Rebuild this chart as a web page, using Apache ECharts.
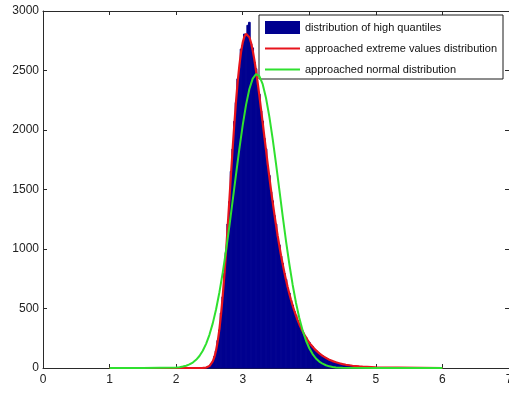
<!DOCTYPE html>
<html>
<head>
<meta charset="utf-8">
<script src="https://cdn.jsdelivr.net/npm/echarts@6/dist/echarts.min.js"></script>
<style>
  html, body { margin: 0; padding: 0; background: #ffffff; }
  #chart { width: 509px; height: 394px; }
</style>
</head>
<body>
<div id="chart"></div>
<script>
// Histogram of the simulated high quantiles: first bin centre, bin width, counts
var histFirstCenter = 2.45;
var histBinWidth = 0.025;
var histCounts = [
  4, 9, 15, 33, 52, 96, 144, 231, 320, 462,
  598, 796, 970, 1210, 1398, 1652, 1840, 2072, 2231, 2430,
  2521, 2680, 2712, 2806, 2790, 2880, 2905, 2724, 2690, 2570,
  2515, 2380, 2301, 2160, 2075, 1930, 1842, 1700, 1618, 1480,
  1405, 1282, 1210, 1098, 1035, 940, 880, 798, 745, 672,
  630, 566, 528, 476, 444, 398, 372, 333, 311, 277,
  259, 230, 216, 192, 180, 159, 149, 132, 124, 110,
  103, 92, 86, 76, 71, 63, 58, 52, 48, 43,
  40, 36, 33, 30, 27, 25, 23, 20, 19, 17,
  15, 14, 13, 11, 10
];

// Fitted extreme values (Gumbel) density, scaled to counts
var evX = [
  1, 2, 2.2, 2.3, 2.35, 2.4, 2.425, 2.45, 2.475, 2.5,
  2.525, 2.55, 2.575, 2.6, 2.625, 2.65, 2.675, 2.7, 2.725, 2.75,
  2.775, 2.8, 2.825, 2.85, 2.875, 2.9, 2.925, 2.95, 2.975, 3.0,
  3.025, 3.05, 3.075, 3.1, 3.125, 3.15, 3.175, 3.2, 3.225, 3.25,
  3.275, 3.3, 3.325, 3.35, 3.375, 3.4, 3.425, 3.45, 3.475, 3.5,
  3.525, 3.55, 3.575, 3.6, 3.625, 3.65, 3.675, 3.7, 3.725, 3.75,
  3.775, 3.8, 3.825, 3.85, 3.875, 3.9, 3.925, 3.95, 3.975, 4.0,
  4.025, 4.05, 4.075, 4.1, 4.125, 4.15, 4.175, 4.2, 4.25, 4.3,
  4.35, 4.4, 4.45, 4.5, 4.55, 4.6, 4.65, 4.7, 4.75, 4.8,
  5, 6
];
var evY = [
  0, 0, 0, 0, 0, 0.5, 1.4, 3.5, 7.8, 16,
  31, 55, 93, 149, 226, 327, 454, 607, 785, 982,
  1195, 1415, 1637, 1853, 2057, 2244, 2408, 2544, 2654, 2734,
  2785, 2808, 2805, 2780, 2733, 2668, 2589, 2498, 2396, 2289,
  2176, 2061, 1945, 1830, 1716, 1605, 1497, 1394, 1295, 1200,
  1111, 1027, 948, 874, 805, 740, 680, 624, 573, 525,
  481, 440, 403, 368, 337, 308, 281, 257, 234, 214,
  195, 178, 162, 148, 135, 123, 112, 102, 85, 70,
  58, 48, 40, 33, 27, 23, 19, 16, 13, 11,
  5, 0
];

// Fitted normal density, scaled to counts
var normX = [
  1, 1.5, 2.0, 2.05, 2.1, 2.15, 2.2, 2.25, 2.3, 2.35,
  2.4, 2.45, 2.5, 2.55, 2.6, 2.65, 2.7, 2.75, 2.8, 2.85,
  2.9, 2.95, 3.0, 3.05, 3.1, 3.15, 3.2, 3.25, 3.3, 3.35,
  3.4, 3.45, 3.5, 3.55, 3.6, 3.65, 3.7, 3.75, 3.8, 3.85,
  3.9, 3.95, 4.0, 4.05, 4.1, 4.15, 4.2, 4.25, 4.3, 4.35,
  4.4, 4.5, 5, 6
];
var normY = [
  0, 0, 4, 7, 12, 19, 30, 46, 69, 101,
  145, 203, 279, 375, 494, 637, 802, 989, 1194, 1410,
  1630, 1844, 2041, 2211, 2344, 2432, 2469, 2453, 2385, 2269,
  2113, 1925, 1717, 1498, 1279, 1069, 874, 700, 548, 420,
  315, 231, 166, 117, 80, 54, 36, 23, 14, 9,
  5, 2, 0, 0
];

// Axis ticks
var xTicks = { min: 0, max: 7, step: 1 };
var yTicks = { min: 0, max: 3000, step: 500 };

var histName = 'distribution of high quantiles';
var evName = 'approached extreme values distribution';
var normName = 'approached normal distribution';

function pairs(xs, ys) {
  return xs.map(function (x, i) { return [x, ys[i]]; });
}

var histData = histCounts.map(function (c, i) {
  return [histFirstCenter + i * histBinWidth, c];
});

var FONT = '"Liberation Sans", Arial, Helvetica, sans-serif';
var AXIS_COLOR = '#2a2a2a';
var HIST_COLOR = '#00008f';
var EV_COLOR = '#e8141c';
var NORM_COLOR = '#2fe02f';

// Legend glyph for the curves: a 2px stroke across the middle of the 35x13 key box
// (the two specks at the corners keep the box from being stretched vertically)
var LINE_KEY = 'path://M0,0L0.01,0L0.01,0.01ZM0,5.5L35,5.5L35,7.5L0,7.5ZM34.99,13L35,13L35,12.99Z';

function plainNumber(v) { return String(v); }

function makeXAxis(pos, showLabel) {
  return {
    type: 'value', position: pos,
    min: xTicks.min, max: xTicks.max, interval: xTicks.step,
    axisLine: { show: true, onZero: false, lineStyle: { color: AXIS_COLOR, width: 1 } },
    axisTick: { show: true, inside: true, length: 4, lineStyle: { color: AXIS_COLOR } },
    axisLabel: { show: showLabel, color: '#222', fontSize: 12, fontFamily: FONT, margin: 6,
                 formatter: plainNumber },
    splitLine: { show: false }
  };
}
function makeYAxis(pos, showLabel) {
  return {
    type: 'value', position: pos,
    min: yTicks.min, max: yTicks.max, interval: yTicks.step,
    axisLine: { show: true, onZero: false, lineStyle: { color: AXIS_COLOR, width: 1 } },
    axisTick: { show: true, inside: true, length: 4, lineStyle: { color: AXIS_COLOR } },
    axisLabel: { show: showLabel, color: '#222', fontSize: 12, fontFamily: FONT, margin: 4,
                 formatter: plainNumber },
    splitLine: { show: false }
  };
}

var chart = echarts.init(document.getElementById('chart'), null, { renderer: 'canvas' });
chart.setOption({
  animation: false,
  backgroundColor: '#ffffff',
  grid: { left: 43, right: 0, top: 11, bottom: 26, containLabel: false, outerBoundsMode: 'none' },
  xAxis: [makeXAxis('bottom', true), makeXAxis('top', false)],
  yAxis: [makeYAxis('left', true), makeYAxis('right', false)],
  legend: {
    orient: 'vertical',
    left: 259, top: 15,
    padding: [6, 6, 3, 6],
    itemWidth: 35, itemHeight: 13, itemGap: 8,
    backgroundColor: '#ffffff',
    borderColor: '#1a1a1a', borderWidth: 1, borderRadius: 0,
    textStyle: { color: '#111', fontSize: 11, fontFamily: FONT, lineHeight: 13 },
    selectedMode: false,
    data: [
      { name: histName, icon: 'rect' },
      { name: evName, icon: LINE_KEY, itemStyle: { color: EV_COLOR } },
      { name: normName, icon: LINE_KEY, itemStyle: { color: NORM_COLOR } }
    ]
  },
  series: [
    {
      name: histName,
      type: 'custom',
      xAxisIndex: 0, yAxisIndex: 0,
      itemStyle: { color: HIST_COLOR },
      data: histData,
      renderItem: function (params, api) {
        var x = api.value(0), v = api.value(1);
        var half = histBinWidth / 2;
        var p0 = api.coord([x - half, v]);
        var p1 = api.coord([x + half, 0]);
        return {
          type: 'rect',
          shape: { x: p0[0], y: p0[1], width: p1[0] - p0[0], height: p1[1] - p0[1] },
          style: { fill: HIST_COLOR, stroke: HIST_COLOR, lineWidth: 1 }
        };
      },
      z: 2
    },
    {
      name: evName,
      type: 'line',
      xAxisIndex: 0, yAxisIndex: 0,
      data: pairs(evX, evY),
      symbol: 'none',
      clip: false,
      color: EV_COLOR,
      lineStyle: { color: EV_COLOR, width: 2.2 },
      z: 3
    },
    {
      name: normName,
      type: 'line',
      xAxisIndex: 0, yAxisIndex: 0,
      data: pairs(normX, normY),
      symbol: 'none',
      clip: false,
      color: NORM_COLOR,
      lineStyle: { color: NORM_COLOR, width: 2 },
      z: 4
    }
  ]
});
</script>
</body>
</html>
